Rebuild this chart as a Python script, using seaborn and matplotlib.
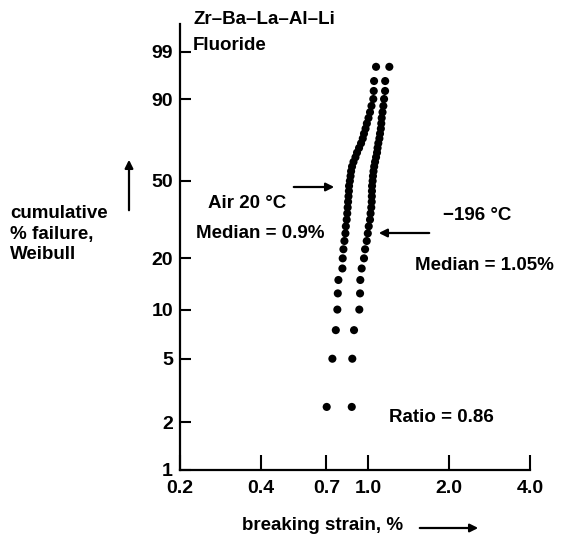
import numpy as np
import pandas as pd
import matplotlib
matplotlib.use("Agg")
import matplotlib.pyplot as plt
import seaborn as sns

# cumulative % failure (plotting positions) shared by both series
cum_pct = [2.5, 5.0, 7.5, 10.0, 12.5, 15.0, 17.5, 20.0, 22.5, 25.0,
           27.5, 30.0, 32.5, 35.0, 37.5, 40.0, 42.5, 45.0, 47.5, 50.0,
           52.5, 55.0, 57.5, 60.0, 62.5, 65.0, 67.5, 70.0, 72.5, 75.0,
           77.5, 80.0, 82.5, 85.0, 87.5, 90.0, 92.5, 95.0, 97.5]

# breaking strain (%) in air at 20 C
strain_air = [0.702, 0.737, 0.759, 0.769, 0.772, 0.776, 0.803, 0.805, 0.810, 0.817,
              0.824, 0.827, 0.833, 0.837, 0.840, 0.843, 0.846, 0.849, 0.850, 0.856,
              0.861, 0.865, 0.872, 0.883, 0.898, 0.910, 0.926, 0.942, 0.956, 0.966,
              0.979, 0.990, 1.004, 1.017, 1.030, 1.046, 1.050, 1.053, 1.071]

# breaking strain (%) at -196 C
strain_cold = [0.870, 0.874, 0.887, 0.928, 0.934, 0.936, 0.947, 0.966, 0.975, 0.989,
               0.998, 1.006, 1.017, 1.022, 1.028, 1.032, 1.033, 1.034, 1.035, 1.040,
               1.043, 1.048, 1.054, 1.062, 1.071, 1.080, 1.085, 1.092, 1.102, 1.108,
               1.116, 1.120, 1.124, 1.132, 1.140, 1.147, 1.157, 1.158, 1.200]

x_ticks = [0.2, 0.4, 0.7, 1.0, 2.0, 4.0]
x_tick_labels = ["0.2", "0.4", "0.7", "1.0", "2.0", "4.0"]
y_ticks = [1, 2, 5, 10, 20, 50, 90, 99]
y_tick_labels = ["1", "2", "5", "10", "20", "50", "90", "99"]

df = pd.DataFrame({
    "strain": strain_air + strain_cold,
    "pct": cum_pct + cum_pct,
    "cond": ["Air 20 °C"] * len(strain_air) + ["-196 °C"] * len(strain_cold),
})

sns.set_style("white")
plt.rcParams["font.family"] = ["Liberation Sans", "DejaVu Sans"]
plt.rcParams["font.weight"] = "bold"
plt.rcParams["text.color"] = "black"
plt.rcParams["axes.labelcolor"] = "black"
plt.rcParams["xtick.color"] = "black"
plt.rcParams["ytick.color"] = "black"

fig = plt.figure(figsize=(5.66, 5.45), dpi=100)
ax = fig.add_axes([180 / 566, 1 - 470 / 545, 350 / 566, (470 - 24) / 545])


def fwd(p):
    p = np.clip(np.asarray(p, dtype=float), 1e-6, 100 - 1e-6)
    return np.log(-np.log(1 - p / 100.0))


def inv(w):
    return 100.0 * (1 - np.exp(-np.exp(np.asarray(w, dtype=float))))


ax.set_xscale("log")
ax.set_yscale("function", functions=(fwd, inv))

sns.scatterplot(data=df, x="strain", y="pct", hue="cond",
                palette={"Air 20 °C": "black", "-196 °C": "black"},
                s=34, edgecolor="none", legend=False, ax=ax)

ax.set_xlim(0.2, 4.0)
ax.set_ylim(1, 99.9)
ax.set_xticks(x_ticks)
ax.set_xticklabels(x_tick_labels)
ax.set_yticks(y_ticks)
ax.set_yticklabels(y_tick_labels)
ax.xaxis.set_minor_locator(matplotlib.ticker.NullLocator())
ax.yaxis.set_minor_locator(matplotlib.ticker.NullLocator())

for s in ["top", "right"]:
    ax.spines[s].set_visible(False)
for s in ["left", "bottom"]:
    ax.spines[s].set_linewidth(1.6)
    ax.spines[s].set_color("black")

ax.tick_params(axis="x", which="major", bottom=True, direction="in", length=11,
               width=1.5, pad=7, labelsize=14, colors="black")
ax.tick_params(axis="y", which="major", left=True, direction="in", length=8,
               width=1.5, pad=5, labelsize=14, colors="black")
ax.set_xlabel("")
ax.set_ylabel("")

fs = 13.5
tk = dict(fontsize=fs, fontweight="bold", color="black")
# title text
fig.text(193 / 566, 1 - 20 / 545, "Zr\u2013Ba\u2013La\u2013Al\u2013Li",
         ha="left", va="center", **tk)
fig.text(193 / 566, 1 - 46 / 545, "Fluoride", ha="left", va="center", **tk)

# annotations
fig.text(247 / 566, 1 - 203 / 545, "Air 20 °C", ha="center", va="center", **tk)
fig.text(260 / 566, 1 - 233 / 545, "Median = 0.9%", ha="center", va="center", **tk)
fig.text(477 / 566, 1 - 216 / 545, "\u2212196 °C", ha="center", va="center", **tk)
fig.text(484 / 566, 1 - 265 / 545, "Median = 1.05%", ha="center", va="center", **tk)
fig.text(441 / 566, 1 - 417 / 545, "Ratio = 0.86", ha="center", va="center", **tk)

arrow_kw = dict(arrowstyle="-|>", color="black", lw=1.6, mutation_scale=12)
fig.add_artist(matplotlib.patches.FancyArrowPatch(
    (291 / 566, 1 - 187 / 545), (337 / 566, 1 - 187 / 545),
    transform=fig.transFigure, **arrow_kw))
fig.add_artist(matplotlib.patches.FancyArrowPatch(
    (432 / 566, 1 - 233 / 545), (376 / 566, 1 - 233 / 545),
    transform=fig.transFigure, **arrow_kw))

# axis labels
fig.text(323 / 566, 1 - 526 / 545, "breaking strain, %", ha="center", va="center", **tk)
fig.add_artist(matplotlib.patches.FancyArrowPatch(
    (417 / 566, 1 - 528 / 545), (481 / 566, 1 - 528 / 545),
    transform=fig.transFigure, **arrow_kw))

fig.text(10 / 566, 1 - 234 / 545, "cumulative\n% failure,\nWeibull",
         ha="left", va="center", linespacing=1.25, **tk)
fig.add_artist(matplotlib.patches.FancyArrowPatch(
    (129 / 566, 1 - 213 / 545), (129 / 566, 1 - 157 / 545),
    transform=fig.transFigure, **arrow_kw))

fig.savefig("out.png", dpi=100)
